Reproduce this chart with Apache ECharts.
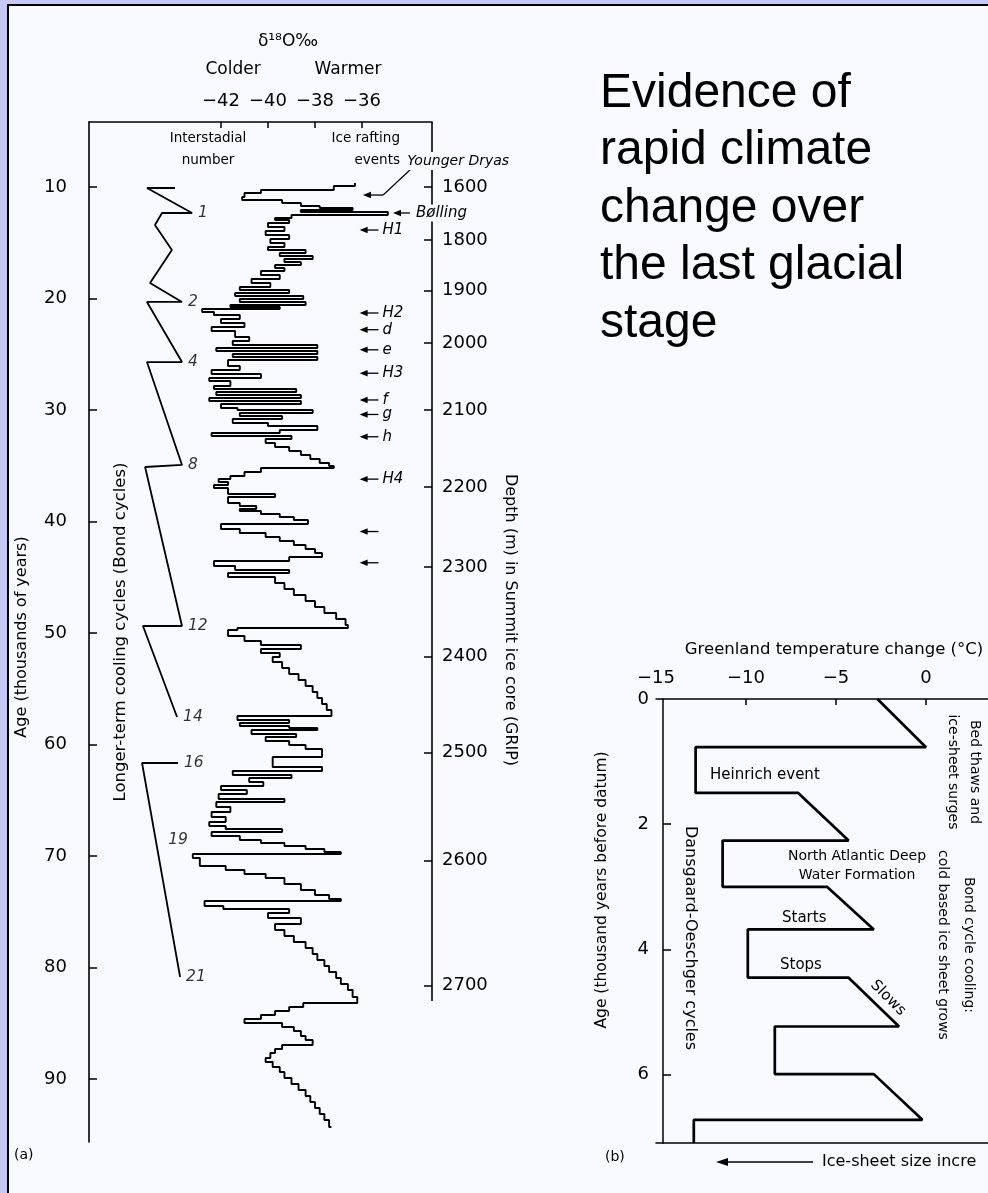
<!DOCTYPE html>
<html><head><meta charset="utf-8">
<script src="https://cdn.jsdelivr.net/npm/echarts@6/dist/echarts.min.js"></script>
<style>html,body{margin:0;padding:0;background:#c8c8f6;}#c{width:988px;height:1193px;}</style>
</head><body><div id="c"></div>
<script>
// ---------- Panel (a): GRIP delta-18O record ----------
const ageTicks = [10, 20, 30, 40, 50, 60, 70, 80, 90];
const d18oTicks = [-42, -40, -38, -36];
const depthTicks = [1600, 1800, 1900, 2000, 2100, 2200, 2300, 2400, 2500, 2600, 2700];
const depthTickAges = [10.0, 14.75, 19.3, 24.0, 30.0, 36.9, 44.1, 52.1, 60.7, 70.4, 81.6];

// [age (kyr), delta18O (permil)] ; value holds until the next age (stepped record)
const d18oRecord = [
 [9.64,-36.3],[9.91,-37.2],[10.27,-40.3],[10.54,-41.0],[10.90,-41.1],[11.17,-39.4],[11.43,-38.6],[11.70,-37.8],
 [11.88,-36.4],[12.06,-38.6],[12.24,-34.9],[12.51,-39.0],[12.78,-39.7],[12.96,-39.1],[13.23,-40.0],[13.59,-39.3],
 [13.95,-40.1],[14.30,-39.1],[14.66,-39.9],[15.02,-39.3],[15.38,-40.0],[15.65,-38.4],[15.92,-39.5],[16.19,-38.1],
 [16.46,-39.3],[16.73,-38.6],[17.00,-39.7],[17.26,-39.3],[17.53,-40.3],[17.89,-39.5],[18.25,-40.7],[18.61,-39.9],
 [18.97,-41.2],[19.24,-39.1],[19.51,-41.4],[19.78,-38.5],[20.04,-41.2],[20.31,-38.4],[20.58,-41.6],[20.76,-39.5],
 [20.94,-42.8],[21.21,-42.3],[21.48,-41.2],[21.84,-42.0],[22.20,-41.0],[22.56,-42.4],[22.91,-41.4],[23.45,-40.8],
 [23.81,-41.5],[24.17,-37.9],[24.44,-42.2],[24.71,-37.9],[24.98,-41.5],[25.25,-37.9],[25.52,-41.7],[26.05,-41.2],
 [26.41,-42.4],[26.77,-40.3],[27.13,-42.5],[27.40,-41.6],[27.85,-42.3],[28.12,-38.8],[28.39,-42.2],[28.65,-38.6],
 [28.92,-42.5],[29.19,-38.6],[29.46,-42.0],[29.82,-41.3],[30.00,-38.1],[30.27,-41.2],[30.54,-39.4],[30.81,-41.5],
 [31.17,-40.0],[31.43,-37.9],[31.79,-39.5],[32.06,-42.4],[32.33,-39.0],[32.60,-40.1],[32.96,-39.7],[33.32,-39.1],
 [33.68,-38.6],[34.04,-38.2],[34.39,-37.8],[34.75,-37.4],[35.02,-37.2],[35.20,-40.3],[35.56,-41.0],[35.92,-41.6],
 [36.19,-42.1],[36.46,-41.7],[36.73,-42.3],[37.00,-41.7],[37.53,-39.7],[37.80,-41.7],[38.34,-41.2],[38.61,-40.5],
 [38.88,-41.2],[39.06,-40.3],[39.33,-39.5],[39.60,-38.9],[39.87,-38.3],[40.22,-42.0],[40.67,-41.2],[41.03,-40.1],
 [41.39,-39.5],[41.75,-38.9],[42.11,-38.4],[42.47,-38.0],[42.83,-37.7],[43.18,-39.1],[43.54,-42.3],[43.99,-41.4],
 [44.35,-39.1],[44.62,-41.7],[44.98,-39.7],[45.52,-39.3],[46.05,-38.9],[46.59,-38.4],[47.13,-38.0],[47.67,-37.6],
 [48.21,-37.1],[48.74,-36.7],[49.28,-36.6],[49.55,-41.3],[49.73,-41.7],[50.27,-41.0],[50.72,-40.3],[51.08,-38.6],
 [51.43,-40.3],[51.79,-39.5],[52.15,-39.8],[52.60,-39.4],[53.14,-39.1],[53.68,-38.7],[54.22,-38.4],[54.75,-38.1],
 [55.29,-37.9],[55.83,-37.7],[56.37,-37.5],[56.91,-37.3],[57.44,-41.3],[57.80,-39.1],[58.07,-41.2],[58.34,-39.1],
 [58.52,-37.9],[58.70,-40.7],[59.06,-38.8],[59.33,-40.1],[59.69,-39.1],[60.04,-38.4],[60.40,-37.7],[61.12,-39.8],
 [62.02,-37.7],[62.38,-41.5],[62.74,-39.0],[63.00,-40.8],[63.36,-40.2],[63.72,-42.0],[64.08,-40.9],[64.44,-42.1],
 [64.89,-39.3],[65.16,-42.2],[65.61,-41.6],[66.06,-42.4],[66.50,-41.8],[66.95,-42.5],[67.31,-41.8],[67.58,-39.4],
 [67.85,-42.4],[68.21,-41.2],[68.57,-40.3],[68.83,-39.3],[69.10,-38.4],[69.37,-37.6],[69.64,-36.9],[69.82,-43.2],
 [70.18,-42.9],[70.90,-41.8],[71.26,-41.0],[71.61,-40.1],[71.97,-39.3],[72.51,-38.6],[73.05,-38.0],[73.50,-37.4],
 [73.86,-36.9],[74.04,-42.7],[74.48,-41.9],[74.75,-39.1],[75.11,-40.0],[75.56,-38.6],[76.10,-39.7],[76.64,-39.3],
 [77.17,-38.9],[77.71,-38.4],[78.25,-38.1],[78.79,-37.9],[79.33,-37.6],[79.87,-37.4],[80.40,-37.1],[80.94,-36.9],
 [81.48,-36.6],[82.02,-36.4],[82.65,-36.2],[83.18,-38.5],[83.54,-39.1],[83.90,-39.7],[84.26,-40.3],[84.62,-41.0],
 [84.98,-39.4],[85.34,-38.9],[85.70,-38.6],[86.14,-38.4],[86.50,-38.1],[86.95,-39.4],[87.31,-39.7],[87.67,-39.9],
 [88.12,-40.1],[88.48,-39.8],[88.93,-39.5],[89.37,-39.3],[89.91,-39.0],[90.45,-38.7],[90.99,-38.4],[91.52,-38.2],
 [92.06,-38.0],[92.60,-37.8],[93.14,-37.6],[93.68,-37.4],[94.30,-37.3]
];

// Bond cycles sawtooth (null breaks the line)
const bondAges   = [10.09,10.09,12.33,12.33,13.41,15.65,18.61,20.31,20.31,25.70,25.70,34.93,35.11,49.37,49.37,57.53,null,61.66,61.66,80.85];
const bondValues = [-43.96,-45.15,-43.23,-44.51,-44.81,-44.09,-45.02,-43.66,-45.15,-43.66,-45.15,-43.66,-45.23,-43.66,-45.32,-43.87,null,-43.83,-45.36,-43.74];

const interstadialNumbers = ['1','2','4','8','12','14','16','19','21'];
const interstadialAges    = [12.33,20.31,25.70,34.93,49.37,57.53,61.66,68.6,80.85];
const interstadialValues  = [-43.23,-43.66,-43.66,-43.66,-43.66,-43.87,-43.83,-44.5,-43.74];

const raftLabels = ['H1','H2','d','e','H3','f','g','h','H4','',''];
const raftAges   = [13.86,21.3,22.8,24.6,26.7,29.1,30.4,32.4,36.2,40.9,43.7];

// ---------- Panel (b): schematic ----------
const tempTicks = [-15, -10, -5, 0];
const bAgeTicks = [0, 2, 4, 6];
const bAges  = [0, 0.77, 0.77, 1.5, 1.5, 2.26, 2.26, 3.0, 3.0, 3.68, 3.68, 4.45, 4.45, 5.23, 5.23, 5.99, 5.99, 6.72, 6.72, 7.09];
const bTemps = [-2.7, 0.0, -12.8, -12.8, -7.1, -4.3, -11.3, -11.3, -5.5, -2.9, -9.9, -9.9, -4.3, -1.5, -8.4, -8.4, -2.9, -0.2, -12.9, -12.9];

// ---------- build ----------
const INK = '#000';
const PAPER = '#f8faff';
const F = '"DejaVu Sans", sans-serif';
const minus = v => v < 0 ? '\u2212' + Math.abs(v) : String(v);

const stepData = [];
d18oRecord.forEach((p, i) => {
  if (i > 0) stepData.push([d18oRecord[i - 1][1], p[0]]);
  stepData.push([p[1], p[0]]);
});
const bondData = bondAges.map((a, i) => a === null ? [null, null] : [bondValues[i], a]);
const isData = interstadialAges.map((a, i) => ({ value: [interstadialValues[i], a], name: interstadialNumbers[i] }));
const bData = bAges.map((a, i) => [bTemps[i], a]);

const AX = { min: -47.617, max: -33.021 };
const AY = { min: 4.17, max: 95.65 };

function arrowGroup(api, age, headV, tailV, label, extra) {
  const h = api.coord([headV, age]);
  const t = api.coord([tailV, age]);
  const ch = [
    { type: 'line', shape: { x1: t[0], y1: t[1], x2: h[0] + 5, y2: h[1] }, style: { stroke: INK, lineWidth: 1.3 } },
    { type: 'polygon', shape: { points: [[h[0], h[1]], [h[0] + 8, h[1] - 3.2], [h[0] + 8, h[1] + 3.2]] }, style: { fill: INK } }
  ];
  if (label) ch.push({ type: 'text', style: { text: label, x: t[0] + 4, y: t[1], verticalAlign: 'middle', textVerticalAlign: 'middle', font: 'italic 15px ' + F, fill: INK, backgroundColor: extra && extra.bg ? PAPER : null, padding: extra && extra.bg ? [1, 2] : 0 } });
  return ch;
}

function txt(text, x, y, font, opts) {
  opts = opts || {};
  const el = { type: 'text', z: 50, x: x, y: y, rotation: opts.rot || 0,
    style: { text: text, x: 0, y: 0, font: font, fill: INK,
      align: opts.align || 'center', textAlign: opts.align || 'center',
      verticalAlign: 'middle', textVerticalAlign: 'middle' } };
  if (opts.lh) el.style.lineHeight = opts.lh;
  return el;
}

const chart = echarts.init(document.getElementById('c'), null, { width: 988, height: 1193 });
chart.setOption({
  backgroundColor: '#c8c8f6',
  animation: false,
  grid: [
    { left: 89, top: 122, width: 343, height: 1020 },
    { left: 656, top: 699, width: 332, height: 444 }
  ],
  xAxis: [
    { gridIndex: 0, type: 'value', position: 'top', min: AX.min, max: AX.max,
      axisLine: { show: true, onZero: false, lineStyle: { color: INK, width: 1.5 } },
      axisTick: { show: true, inside: true, length: 6, customValues: d18oTicks, lineStyle: { color: INK, width: 1.5 } },
      axisLabel: { show: true, customValues: d18oTicks, formatter: minus, margin: 12, color: INK, fontSize: 18, fontFamily: F },
      splitLine: { show: false } },
    { gridIndex: 1, type: 'value', position: 'top', min: -15, max: 3.444,
      axisLine: { show: true, onZero: false, lineStyle: { color: INK, width: 1.5 } },
      axisTick: { show: true, inside: true, length: 6, customValues: [-10, -5, 0], lineStyle: { color: INK, width: 1.5 } },
      axisLabel: { show: true, customValues: tempTicks, formatter: minus, margin: 12, color: INK, fontSize: 18, fontFamily: F },
      splitLine: { show: false } },
    { gridIndex: 1, type: 'value', position: 'bottom', min: -15, max: 3.444,
      axisLine: { show: true, onZero: false, lineStyle: { color: INK, width: 1.5 } },
      axisTick: { show: false }, axisLabel: { show: false }, splitLine: { show: false } }
  ],
  yAxis: [
    { gridIndex: 0, type: 'value', inverse: true, min: AY.min, max: AY.max,
      axisLine: { show: true, onZero: false, lineStyle: { color: INK, width: 1.6 } },
      axisTick: { show: true, inside: true, length: 8, customValues: ageTicks, lineStyle: { color: INK, width: 1.5 } },
      axisLabel: { show: true, customValues: ageTicks, margin: 22, color: INK, fontSize: 18, fontFamily: F },
      splitLine: { show: false } },
    { gridIndex: 0, type: 'value', position: 'right', inverse: true, min: AY.min, max: AY.max,
      axisLine: { show: false, onZero: false },
      axisTick: { show: true, inside: true, length: 8, customValues: depthTickAges, lineStyle: { color: INK, width: 1.5 } },
      axisLabel: { show: true, customValues: depthTickAges, margin: 10, color: INK, fontSize: 18, fontFamily: F,
        formatter: v => { const i = depthTickAges.indexOf(v); return i >= 0 ? String(depthTicks[i]) : ''; } },
      splitLine: { show: false } },
    { gridIndex: 1, type: 'value', inverse: true, min: 0, max: 7.09, offset: -7,
      axisLine: { show: true, onZero: false, lineStyle: { color: INK, width: 1.5 } },
      axisTick: { show: true, inside: true, length: 8, customValues: [2, 4, 6], lineStyle: { color: INK, width: 1.5 } },
      axisLabel: { show: true, customValues: bAgeTicks, margin: 14, color: INK, fontSize: 18, fontFamily: F },
      splitLine: { show: false } }
  ],
  series: [
    { type: 'line', xAxisIndex: 0, yAxisIndex: 0, data: stepData, symbol: 'none', clip: false,
      lineStyle: { color: INK, width: 1.9 }, z: 3 },
    { type: 'line', xAxisIndex: 0, yAxisIndex: 0, data: bondData, symbol: 'none', connectNulls: false, clip: false,
      lineStyle: { color: INK, width: 1.8 } },
    { type: 'scatter', xAxisIndex: 0, yAxisIndex: 0, data: isData, symbolSize: 0, clip: false,
      label: { show: true, position: 'right', distance: 6, formatter: p => p.name, color: INK, fontSize: 15.5, fontStyle: 'italic', fontFamily: F } },
    // depth axis line (Summit core)
    { type: 'line', xAxisIndex: 0, yAxisIndex: 1, data: [[AX.max, AY.min], [AX.max, 83.0]], symbol: 'none', clip: false,
      lineStyle: { color: INK, width: 1.6 } },
    // ice-rafting arrows
    { type: 'custom', xAxisIndex: 0, yAxisIndex: 0, clip: false, z: 6,
      data: raftAges.map((a, i) => [a, i]),
      renderItem: (params, api) => ({ type: 'group', children: arrowGroup(api, api.value(0), -36.1, -35.3, raftLabels[api.value(1)]) }) },
    // Younger Dryas and Bolling pointers
    { type: 'custom', xAxisIndex: 0, yAxisIndex: 0, clip: false, z: 6,
      data: [[10.72, 0], [12.33, 1]],
      renderItem: (params, api) => {
        const k = api.value(1);
        if (k === 0) {
          const ch = arrowGroup(api, 10.72, -35.96, -35.1, '');
          const a = api.coord([-35.1, 10.72]), b = api.coord([-33.87, 8.3]), c = api.coord([-33.9, 7.67]);
          ch.push({ type: 'line', shape: { x1: a[0], y1: a[1], x2: b[0], y2: b[1] }, style: { stroke: INK, lineWidth: 1.2 } });
          ch.push({ type: 'text', style: { text: 'Younger Dryas', x: c[0] - 6, y: c[1], verticalAlign: 'middle', textVerticalAlign: 'middle', font: 'italic 14px ' + F, fill: INK, backgroundColor: PAPER, padding: [2, 2] } });
          return { type: 'group', children: ch };
        }
        return { type: 'group', children: arrowGroup(api, 12.33, -34.68, -33.96, 'B\u00f8lling', { bg: true }) };
      } },
    // panel b
    { type: 'line', xAxisIndex: 1, yAxisIndex: 2, data: bData, symbol: 'none', clip: false,
      lineStyle: { color: INK, width: 2.7 }, z: 3 }
  ],
  graphic: [
    { type: 'rect', z: -100, silent: true, shape: { x: 8, y: 5, width: 1000, height: 1200 }, style: { fill: PAPER, stroke: INK, lineWidth: 2 } },
    { type: 'text', z: 50, style: { text: 'Evidence of\nrapid climate\nchange over\nthe last glacial\nstage', x: 600, y: 65, font: '48px "Liberation Sans", Arial, sans-serif', lineHeight: 57.5, fill: INK } },
    // panel a texts
    txt('\u03b4\u00b9\u2078O\u2030', 288, 42, '17px ' + F),
    txt('Colder', 233, 70, '17px ' + F),
    txt('Warmer', 348, 70, '17px ' + F),
    txt('Interstadial\nnumber', 208, 149, '13.5px ' + F, { lh: 22 }),
    txt('Ice rafting\nevents', 400, 149, '13.5px ' + F, { lh: 22, align: 'right' }),
    txt('Age (thousands of years)', 22, 637, '16px ' + F, { rot: Math.PI / 2 }),
    txt('Longer-term cooling cycles (Bond cycles)', 121, 632, '16.5px ' + F, { rot: Math.PI / 2 }),
    txt('Depth (m) in Summit ice core (GRIP)', 510, 620, '16px ' + F, { rot: -Math.PI / 2 }),
    txt('(a)', 14, 1155, '14px ' + F, { align: 'left' }),
    // panel b texts
    txt('Greenland temperature change (\u00b0C)', 834, 650, '16.5px ' + F),
    txt('Age (thousand years before datum)', 602, 890, '15.5px ' + F, { rot: Math.PI / 2 }),
    txt('Dansgaard-Oeschger cycles', 690, 938, '16px ' + F, { rot: -Math.PI / 2 }),
    txt('Bed thaws and\nice-sheet surges', 964, 772, '14px ' + F, { rot: -Math.PI / 2, lh: 22 }),
    txt('Bond cycle cooling:\ncold based ice sheet grows', 956, 945, '14px ' + F, { rot: -Math.PI / 2, lh: 26 }),
    txt('Heinrich event', 710, 775, '15px ' + F, { align: 'left' }),
    txt('North Atlantic Deep\nWater Formation', 857, 866, '14px ' + F, { lh: 19 }),
    txt('Starts', 782, 918, '15px ' + F, { align: 'left' }),
    txt('Stops', 780, 965, '15px ' + F, { align: 'left' }),
    txt('Slows', 888, 998, '15px ' + F, { rot: -Math.PI / 4 }),
    txt('(b)', 605, 1157, '14px ' + F, { align: 'left' }),
    { type: 'line', z: 50, shape: { x1: 724, y1: 1162, x2: 813, y2: 1162 }, style: { stroke: INK, lineWidth: 1.3 } },
    { type: 'polygon', z: 50, shape: { points: [[716, 1162], [728, 1158], [728, 1166]] }, style: { fill: INK } },
    txt('Ice-sheet size incre', 822, 1162, '16px ' + F, { align: 'left' })
  ]
});
</script></body></html>
